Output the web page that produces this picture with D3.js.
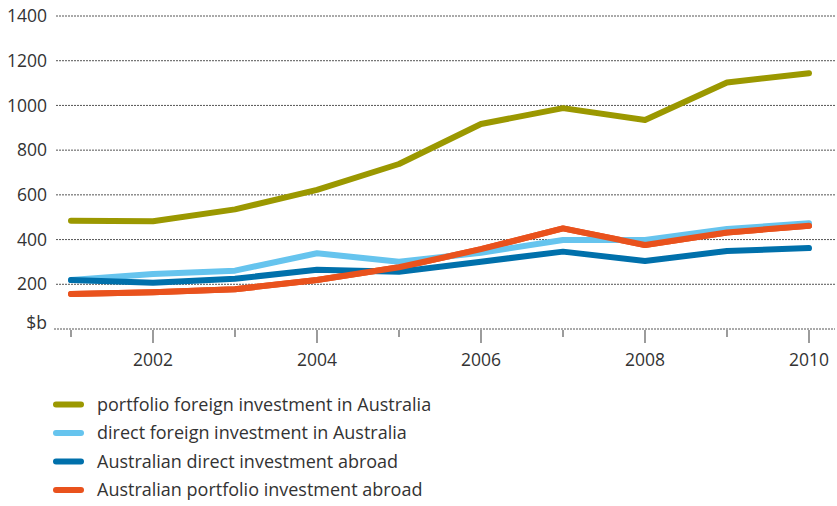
<!DOCTYPE html>
<html><head><meta charset="utf-8">
<script src="https://cdn.jsdelivr.net/npm/d3@7"></script>
<style>
body{margin:0;background:#fff;}
text{font-family:"Open Sans",sans-serif;fill:#333;}
</style></head>
<body><svg id="c" width="837" height="506"></svg>
<script>
const years = [2001,2002,2003,2004,2005,2006,2007,2008,2009,2010];
const portfolioForeign = [484,482,535,622,738,917,988,935,1103,1144];
const directForeign = [219,246,261,339,301,341,398,398,447,473];
const ausDirect = [219,207,225,265,256,301,346,304,349,362];
const ausPortfolio = [157,164,178,219,276,357,450,376,432,462];
const yTicks = [200,400,600,800,1000,1200,1400];
const xLabels = [2002,2004,2006,2008,2010];
const seriesNames = ["portfolio foreign investment in Australia","direct foreign investment in Australia","Australian direct investment abroad","Australian portfolio investment abroad"];
const seriesColors = ["#9b9800","#66c4ee","#0070ab","#e9521d"];
const seriesData = [portfolioForeign,directForeign,ausDirect,ausPortfolio];

const svg = d3.select("#c");
const x = d3.scaleLinear().domain([2001,2010]).range([71,809]);
const y = d3.scaleLinear().domain([0,1400]).range([329,16]);

// gridlines
svg.append("g").selectAll("line").data(yTicks).join("line")
  .attr("x1",56).attr("x2",835).attr("y1",d=>y(d)).attr("y2",d=>y(d))
  .attr("stroke","#555").attr("stroke-width",1).attr("stroke-dasharray","2,1");
svg.append("line").attr("x1",54).attr("x2",835).attr("y1",y(0)).attr("y2",y(0))
  .attr("stroke","#555").attr("stroke-width",1).attr("stroke-dasharray","2,1");

// y labels
svg.append("g").selectAll("text").data(yTicks).join("text")
  .attr("x",47).attr("y",d=>y(d)).attr("dy","0.35em").attr("text-anchor","end")
  .attr("font-size",17.5).text(d=>d);
svg.append("text").attr("x",47).attr("y",y(0)-6).attr("dy","0.35em").attr("text-anchor","end")
  .attr("font-size",17.5).text("$b");

// x axis ticks
svg.append("g").selectAll("line").data(years).join("line")
  .attr("x1",d=>x(d)).attr("x2",d=>x(d)).attr("y1",y(0)+1)
  .attr("y2",d=>xLabels.includes(d)?343:337)
  .attr("stroke","#666").attr("stroke-width",1.3);
svg.append("g").selectAll("text").data(xLabels).join("text")
  .attr("x",d=>x(d)).attr("y",366).attr("text-anchor","middle")
  .attr("font-size",17.5).text(d=>d);

// lines
const line = d3.line().x((d,i)=>x(years[i])).y(d=>y(d));
const order = [0,3,1,2];
order.forEach(k=>{
  svg.append("path").datum(seriesData[k]).attr("d",line)
    .attr("fill","none").attr("stroke",seriesColors[k]).attr("stroke-width",6)
    .attr("stroke-linecap","round").attr("stroke-linejoin","round");
});
svg.append("path").datum(ausPortfolio).attr("d",line)
  .attr("fill","none").attr("stroke",seriesColors[3]).attr("stroke-width",6)
  .attr("stroke-linecap","round").attr("stroke-linejoin","round");

// legend
const lg = svg.append("g").selectAll("g").data(seriesNames).join("g")
  .attr("transform",(d,i)=>`translate(0,${404.5+i*28.5})`);
lg.append("line").attr("x1",56).attr("x2",81).attr("y1",0).attr("y2",0)
  .attr("stroke",(d,i)=>seriesColors[i]).attr("stroke-width",6).attr("stroke-linecap","round");
lg.append("text").attr("x",97).attr("y",0).attr("dy","0.35em").attr("font-size",18).text(d=>d);
</script></body></html>
